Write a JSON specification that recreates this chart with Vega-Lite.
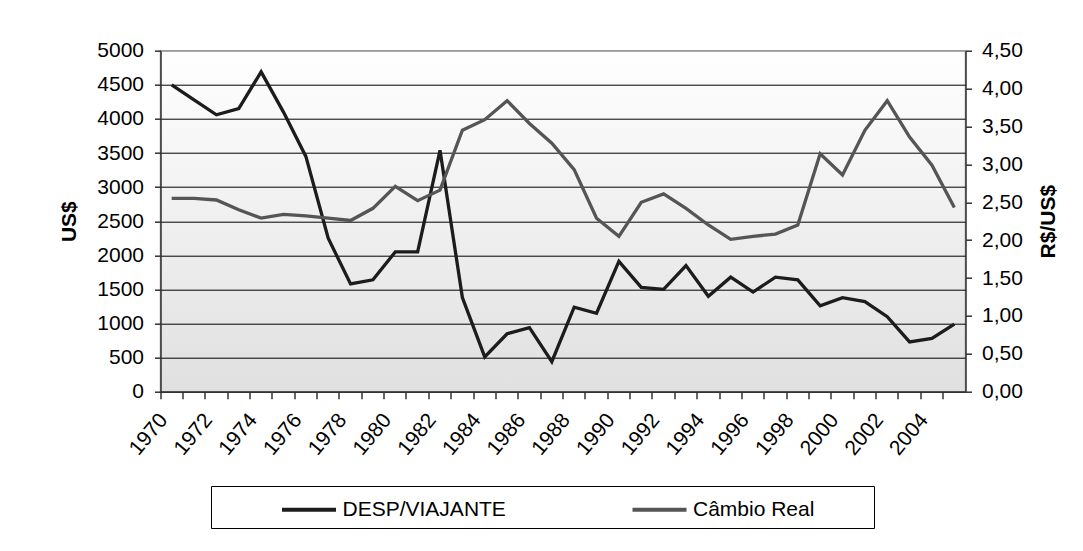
{
  "$schema": "https://vega.github.io/schema/vega-lite/v6.json",
  "width": 805,
  "height": 341,
  "autosize": {"type": "none"},
  "padding": {"left": 160.5, "top": 50.7, "right": 117.5, "bottom": 159.3},
  "background": "white",
  "view": {
    "fill": {"gradient": "linear", "x1": 0, "y1": 0, "x2": 0, "y2": 1, "stops": [{"offset": 0, "color": "#ffffff"}, {"offset": 1, "color": "#e0e0e0"}]},
    "stroke": "#9a9a9a",
    "strokeWidth": 1.5
  },
  "data": {
    "values": [
      {"ano": 1970, "desp": 4500, "cambio": 2.55},
      {"ano": 1971, "desp": 4280, "cambio": 2.55},
      {"ano": 1972, "desp": 4060, "cambio": 2.53},
      {"ano": 1973, "desp": 4150, "cambio": 2.40},
      {"ano": 1974, "desp": 4690, "cambio": 2.29},
      {"ano": 1975, "desp": 4100, "cambio": 2.34},
      {"ano": 1976, "desp": 3450, "cambio": 2.32},
      {"ano": 1977, "desp": 2250, "cambio": 2.29},
      {"ano": 1978, "desp": 1580, "cambio": 2.26},
      {"ano": 1979, "desp": 1640, "cambio": 2.42},
      {"ano": 1980, "desp": 2050, "cambio": 2.71},
      {"ano": 1981, "desp": 2050, "cambio": 2.52},
      {"ano": 1982, "desp": 3540, "cambio": 2.66},
      {"ano": 1983, "desp": 1380, "cambio": 3.45},
      {"ano": 1984, "desp": 510, "cambio": 3.59},
      {"ano": 1985, "desp": 850, "cambio": 3.84},
      {"ano": 1986, "desp": 940, "cambio": 3.54},
      {"ano": 1987, "desp": 440, "cambio": 3.28},
      {"ano": 1988, "desp": 1240, "cambio": 2.93},
      {"ano": 1989, "desp": 1150, "cambio": 2.29},
      {"ano": 1990, "desp": 1910, "cambio": 2.05},
      {"ano": 1991, "desp": 1530, "cambio": 2.50},
      {"ano": 1992, "desp": 1500, "cambio": 2.61},
      {"ano": 1993, "desp": 1850, "cambio": 2.42},
      {"ano": 1994, "desp": 1400, "cambio": 2.20},
      {"ano": 1995, "desp": 1680, "cambio": 2.01},
      {"ano": 1996, "desp": 1460, "cambio": 2.05},
      {"ano": 1997, "desp": 1680, "cambio": 2.08},
      {"ano": 1998, "desp": 1640, "cambio": 2.20},
      {"ano": 1999, "desp": 1260, "cambio": 3.14},
      {"ano": 2000, "desp": 1380, "cambio": 2.86},
      {"ano": 2001, "desp": 1320, "cambio": 3.45},
      {"ano": 2002, "desp": 1100, "cambio": 3.84},
      {"ano": 2003, "desp": 730, "cambio": 3.36},
      {"ano": 2004, "desp": 780, "cambio": 2.99},
      {"ano": 2005, "desp": 990, "cambio": 2.43}
    ]
  },
  "encoding": {
    "x": {
      "field": "ano",
      "type": "ordinal",
      "bandPosition": 0.5,
      "scale": {"type": "band", "paddingInner": 0, "paddingOuter": 0},
      "axis": {
        "title": null,
        "bandPosition": 0,
        "labelExpr": "datum.value % 2 === 0 ? datum.label : ''",
        "labelAngle": -50,
        "labelAlign": "right",
        "labelBaseline": "bottom",
        "labelPadding": 24,
        "labelOverlap": false,
        "labelBound": false,
        "labelFontSize": 21,
        "labelColor": "#000000",
        "tickSize": 7,
        "tickColor": "#333333",
        "tickWidth": 1.5,
        "domainColor": "#333333",
        "domainWidth": 1.5,
        "grid": false
      }
    }
  },
  "layer": [
    {
      "mark": {"type": "line", "strokeWidth": 3.3, "strokeJoin": "miter"},
      "encoding": {
        "y": {
          "field": "desp",
          "type": "quantitative",
          "scale": {"domain": [0, 5000], "nice": false, "zero": true},
          "axis": {
            "values": [0, 500, 1000, 1500, 2000, 2500, 3000, 3500, 4000, 4500, 5000],
            "format": "d",
            "title": "US$",
            "titleFontSize": 21,
            "titleFontWeight": "bold",
            "titleColor": "#000000",
            "titleAngle": -90,
            "titleX": -91.5,
            "titleY": 170.5,
            "titleAlign": "center",
            "titleBaseline": "middle",
            "grid": true,
            "gridColor": {"condition": {"test": "datum.value === 5000", "value": "#9a9a9a"}, "value": "#000000"},
            "gridWidth": 1,
            "tickSize": 6,
            "tickColor": "#333333",
            "tickWidth": 1.5,
            "labelPadding": 11,
            "labelFontSize": 21,
            "labelColor": "#000000",
            "domainColor": "#333333",
            "domainWidth": 1.5
          }
        },
        "color": {
          "datum": "DESP/VIAJANTE",
          "type": "nominal",
          "scale": {"domain": ["DESP/VIAJANTE", "Câmbio Real"], "range": ["#1c1c1c", "#555555"]},
          "legend": {
            "orient": "none",
            "legendX": 50.5,
            "legendY": 435.3,
            "direction": "horizontal",
            "title": null,
            "padding": 8,
            "strokeColor": "#000000",
            "fillColor": "#ffffff",
            "symbolType": "M-2,0H2M14.7,0",
            "symbolSize": 729,
            "symbolStrokeWidth": 4,
            "symbolOffset": 74.5,
            "labelOffset": 18,
            "columnPadding": 53.5,
            "labelLimit": 400,
            "labelFontSize": 21,
            "labelColor": "#000000"
          }
        }
      }
    },
    {
      "mark": {"type": "line", "strokeWidth": 3.3, "strokeJoin": "miter"},
      "encoding": {
        "y": {
          "field": "cambio",
          "type": "quantitative",
          "scale": {"domain": [0, 4.5], "nice": false, "zero": true},
          "axis": {
            "orient": "right",
            "values": [0, 0.5, 1, 1.5, 2, 2.5, 3, 3.5, 4, 4.5],
            "labelExpr": "replace(format(datum.value, '.2f'), '.', ',')",
            "title": "R$/US$",
            "titleFontSize": 21,
            "titleFontWeight": "bold",
            "titleColor": "#000000",
            "titleAngle": -90,
            "titleX": 82.5,
            "titleY": 170.5,
            "titleAlign": "center",
            "titleBaseline": "middle",
            "grid": false,
            "tickSize": 6,
            "tickColor": "#333333",
            "tickWidth": 1.5,
            "labelPadding": 10,
            "labelFontSize": 21,
            "labelColor": "#000000",
            "domainColor": "#333333",
            "domainWidth": 1.5
          }
        },
        "color": {"datum": "Câmbio Real", "type": "nominal"}
      }
    }
  ],
  "resolve": {"scale": {"y": "independent"}},
  "config": {
    "font": "Liberation Sans"
  }
}
